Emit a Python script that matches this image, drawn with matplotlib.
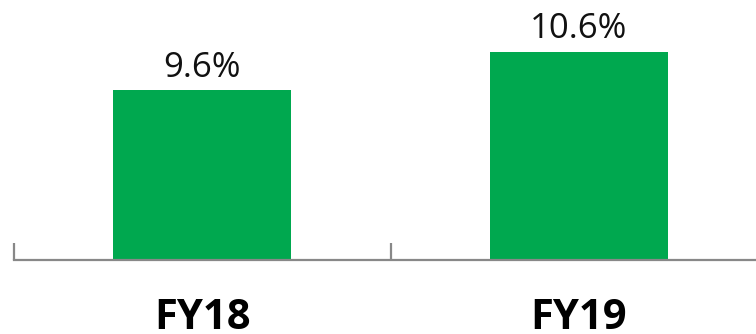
import matplotlib
matplotlib.use("Agg")
import matplotlib.pyplot as plt
import numpy as np

categories = ["FY18", "FY19"]
values = [9.6, 10.6]
value_labels = ["9.6%", "10.6%"]

bar_color = "#00A84F"
axis_color = "#888888"

plt.rcParams['font.family'] = ['Open Sans', 'DejaVu Sans']

fig = plt.figure(figsize=(7.56, 3.34), dpi=100)
# axes spans a bit past the right edge of the image, as in the reference
ax = fig.add_axes([14 / 756, 1 - 259.5 / 334, 753 / 756, 259.5 / 334])

x = np.arange(len(categories))
ax.bar(x, values, width=0.473, color=bar_color, zorder=2)
ax.set_xlim(-0.5, 1.5)
ax.set_ylim(5.17, 11.95)

for xi, v, lab in zip(x, values, value_labels):
    ax.annotate(lab, (xi, v), xytext=(0, 9.6), textcoords="offset points",
                ha="center", va="baseline", fontsize=25, color="#111111")

for s in ["top", "right", "left"]:
    ax.spines[s].set_visible(False)
ax.spines["bottom"].set_color(axis_color)
ax.spines["bottom"].set_linewidth(1.6)
ax.set_yticks([])

ax.set_xticks([-0.5, 0.5, 1.5], minor=False)
ax.set_xticklabels([])
ax.tick_params(axis="x", direction="in", length=12, width=1.6, color=axis_color)

for xi, c in zip(x, categories):
    ax.text(xi, -69.5 / 259.5, c, transform=ax.get_xaxis_transform(), ha="center",
            va="baseline", fontsize=30, fontweight="bold", color="black")

fig.savefig("out.png", dpi=100)
